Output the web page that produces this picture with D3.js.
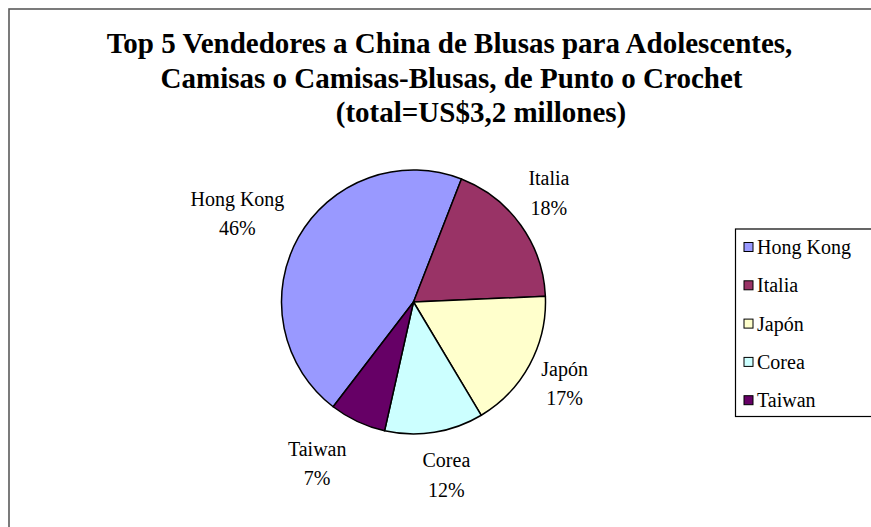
<!DOCTYPE html>
<html>
<head>
<meta charset="utf-8">
<script src="https://cdn.jsdelivr.net/npm/d3@7"></script>
<style>
  html, body { margin: 0; padding: 0; background: #fff; }
  svg { display: block; }
  text { font-family: "Liberation Serif", "Times New Roman", serif; fill: #000; }
</style>
</head>
<body>
<svg id="chart" width="871" height="527"></svg>
<script>
// Sellers and their share (%) of the US$3.2 million total
const sellers = ["Hong Kong", "Italia", "Japón", "Corea", "Taiwan"];
const shares = [45.5, 18.4, 17.1, 12.1, 6.9];
const colors = ["#9999FF", "#993366", "#FFFFCC", "#CCFFFF", "#660066"];

const titleLines = [
  "Top 5 Vendedores a China de Blusas para Adolescentes,",
  "Camisas o Camisas-Blusas, de Punto o Crochet",
  "(total=US$3,2 millones)"
];

const W = 871, H = 527;
const svg = d3.select("#chart");

// chart area frame
svg.append("rect")
  .attr("x", 9).attr("y", 9)
  .attr("width", W + 20).attr("height", H + 20)
  .attr("fill", "#fff")
  .attr("stroke", "#5a5a5a")
  .attr("stroke-width", 1.6);

// title
const titleX = [449.5, 451.5, 481];
const titleY = [53, 88, 122];
svg.append("g").selectAll("text")
  .data(titleLines)
  .join("text")
  .attr("x", (d, i) => titleX[i])
  .attr("y", (d, i) => titleY[i])
  .attr("text-anchor", "middle")
  .attr("font-weight", "bold")
  .attr("font-size", 29)
  .text(d => d);

// pie
const cx = 413.5, cy = 302, radius = 132;
const data = sellers.map((name, i) => ({ name, value: shares[i], color: colors[i] }));
const total = d3.sum(shares);

const startDeg = 217.5;
const pie = d3.pie()
  .sort(null)
  .value(d => d.value)
  .startAngle(startDeg * Math.PI / 180)
  .endAngle(startDeg * Math.PI / 180 + 2 * Math.PI);
const arcs = pie(data);
const arc = d3.arc().innerRadius(0).outerRadius(radius);

const gPie = svg.append("g").attr("transform", `translate(${cx},${cy})`);
gPie.selectAll("path")
  .data(arcs)
  .join("path")
  .attr("d", arc)
  .attr("fill", d => d.data.color)
  .attr("stroke", "#000")
  .attr("stroke-width", 1.5)
  .attr("stroke-linejoin", "round");

// data labels: name and percentage, placed outside each slice
const pct = d3.format(".0%");
const labelGap = 14, halfHeight = 26, lineHalf = 14.7;
const nudge = {
  "Hong Kong": [-8, 3],
  "Italia": [0, -2],
  "Japón": [2, 7],
  "Corea": [6, 10],
  "Taiwan": [-22, 13]
};
const gLab = svg.append("g");
arcs.forEach(a => {
  const mid = (a.startAngle + a.endAngle) / 2;
  const ux = Math.sin(mid), uy = -Math.cos(mid);
  const t = gLab.append("text")
    .attr("text-anchor", "middle")
    .attr("font-size", 20);
  const l1 = t.append("tspan").text(a.data.name);
  const l2 = t.append("tspan").text(pct(a.data.value / total));
  const hw = Math.max(l1.node().getComputedTextLength(), l2.node().getComputedTextLength()) / 2;
  const n = nudge[a.data.name];
  const x = cx + ux * (radius + labelGap) + ux * hw + n[0];
  const y = cy + uy * (radius + labelGap) + uy * halfHeight + n[1];
  l1.attr("x", x).attr("y", y - lineHalf);
  l2.attr("x", x).attr("y", y + lineHalf);
});

// legend
const legX = 735.5, legTop = 229, legBottom = 416.5, rowStep = 38.3, firstRow = 247;
svg.append("rect")
  .attr("x", legX).attr("y", legTop)
  .attr("width", W - legX + 20).attr("height", legBottom - legTop)
  .attr("fill", "#fff")
  .attr("stroke", "#000")
  .attr("stroke-width", 1.2);
const rows = svg.append("g").selectAll("g")
  .data(data)
  .join("g")
  .attr("transform", (d, i) => `translate(0,${firstRow + i * rowStep})`);
rows.append("rect")
  .attr("x", 744).attr("y", -4.5)
  .attr("width", 9).attr("height", 9)
  .attr("fill", d => d.color)
  .attr("stroke", "#000")
  .attr("stroke-width", 1);
rows.append("text")
  .attr("x", 757).attr("y", 7)
  .attr("font-size", 20)
  .text(d => d.name);
</script>
</body>
</html>
